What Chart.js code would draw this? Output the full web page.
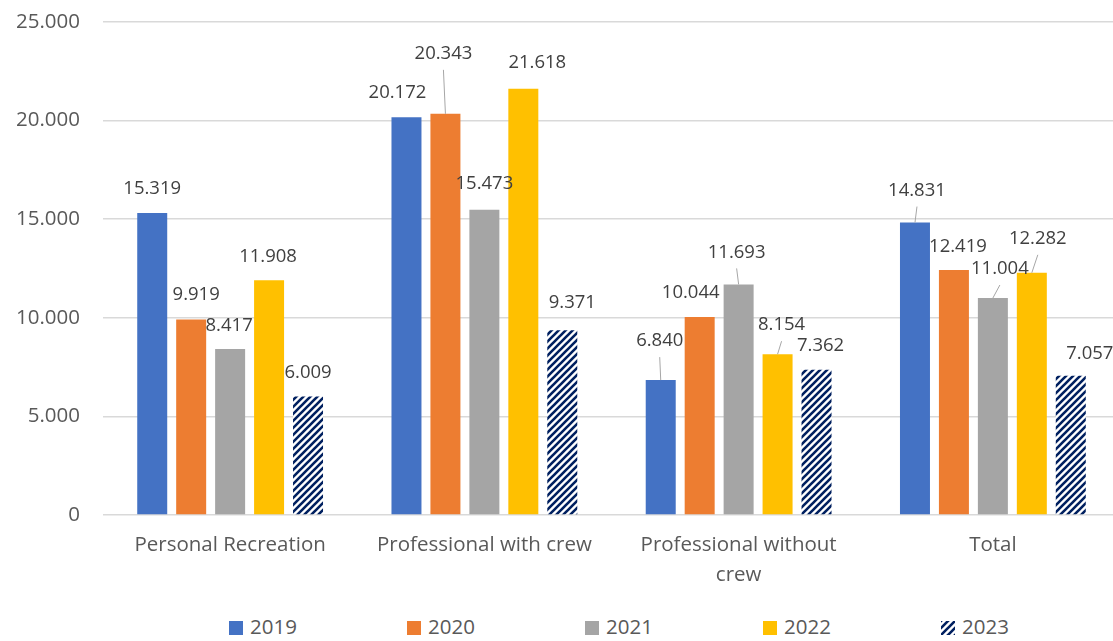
<!DOCTYPE html>
<html>
<head>
<meta charset="utf-8">
<script src="https://cdn.jsdelivr.net/npm/chart.js@4.4.1/dist/chart.umd.min.js"></script>
<style>
  html, body { margin: 0; padding: 0; background: #fff; overflow: hidden; }
  #wrap { position: relative; width: 1130px; height: 641px; }
  #chartBox { position: absolute; left: 0; top: 0; }
  #legend { position: absolute; left: 229px; top: 612px; font-family: 'Open Sans'; font-size: 20.5px; color: #595959; white-space: nowrap; }
  #legend span { display: inline-block; width: 178px; line-height: 24px; }
  #legend i { display: inline-block; width: 14px; height: 14px; margin-right: 7px; vertical-align: -1px; }
</style>
</head>
<body>
<div id="wrap">
  <div id="chartBox"><canvas id="vesselChart" width="1130" height="600"></canvas></div>
  <div id="legend"></div>
</div>
<script>
// ---------------- Data ----------------
const categories = ['Personal Recreation', 'Professional with crew', ['Professional without', 'crew'], 'Total'];
const years = ['2019', '2020', '2021', '2022', '2023'];
const values2019 = [15319, 20172, 6840, 14831];
const values2020 = [9919, 20343, 10044, 12419];
const values2021 = [8417, 15473, 11693, 11004];
const values2022 = [11908, 21618, 8154, 12282];
const values2023 = [6009, 9371, 7362, 7057];
const yMin = 0;
const yMax = 25000;
const yStep = 5000;

// label offsets (dx, dy) from bar top, per series / category
const labelOffsets = [
  [[0, -24], [-9, -24], [-1, -39], [2, -32]],
  [[5, -25], [-2, -60], [-9, -24], [4, -23]],
  [[-1, -23], [0, -26], [-2, -32], [7, -29]],
  [[-1, -23], [14, -26], [4, -29], [6, -34]],
  [[0, -24], [10, -27], [4, -24], [19, -22]]
];

const fmt = v => String(v).replace(/\B(?=(\d{3})+(?!\d))/g, '.');

function makeHatch() {
  const c = document.createElement('canvas');
  c.width = 7; c.height = 7;
  const g = c.getContext('2d');
  g.fillStyle = '#fff';
  g.fillRect(0, 0, 7, 7);
  g.strokeStyle = '#002060';
  g.lineWidth = 2.6;
  g.beginPath();
  g.moveTo(-1, 8); g.lineTo(8, -1);
  g.moveTo(-4.5, 4.5); g.lineTo(4.5, -4.5);
  g.moveTo(2.5, 11.5); g.lineTo(11.5, 2.5);
  g.stroke();
  return c;
}

const hatchCanvas = makeHatch();
const ctx = document.getElementById('vesselChart').getContext('2d');
const hatch = ctx.createPattern(hatchCanvas, 'repeat');

const colors = ['#4472C4', '#ED7D31', '#A5A5A5', '#FFC000', hatch];
const seriesValues = [values2019, values2020, values2021, values2022, values2023];

const barLabels = {
  id: 'barLabels',
  afterDatasetsDraw(chart) {
    const c = chart.ctx;
    c.save();
    c.font = '18.5px "Open Sans"';
    c.fillStyle = '#404040';
    c.textAlign = 'center';
    c.textBaseline = 'middle';
    chart.data.datasets.forEach((ds, i) => {
      chart.getDatasetMeta(i).data.forEach((bar, j) => {
        const [dx, dy] = labelOffsets[i][j];
        const x = bar.x + dx;
        const y = bar.y + dy;
        if (dy < -28) {
          c.strokeStyle = '#a6a6a6';
          c.lineWidth = 1;
          c.beginPath();
          c.moveTo(x, y + 16);
          c.lineTo(bar.x, bar.y);
          c.stroke();
        }
        c.fillText(fmt(ds.data[j]), x, y);
      });
    });
    c.restore();
  }
};

new Chart(ctx, {
  type: 'bar',
  data: {
    labels: categories,
    datasets: years.map((y, i) => ({
      label: y,
      data: seriesValues[i],
      backgroundColor: colors[i],
      borderWidth: 0,
      barPercentage: 0.77,
      categoryPercentage: 0.766
    }))
  },
  options: {
    responsive: false,
    animation: false,
    layout: { padding: { top: 22, right: 10, left: 0, bottom: 0 } },
    plugins: {
      legend: { display: false },
      tooltip: { enabled: false }
    },
    scales: {
      x: {
        grid: { display: false, drawTicks: false },
        border: { display: false },
        ticks: {
          color: '#595959',
          padding: 15,
          font: { family: 'Open Sans', size: 20.5, lineHeight: 1.46 }
        },
        afterFit(scale) { scale.height = 85; }
      },
      y: {
        min: yMin,
        max: yMax,
        grid: { color: '#d9d9d9', lineWidth: 1.5, drawTicks: false },
        border: { display: false },
        ticks: {
          stepSize: yStep,
          color: '#595959',
          padding: 23,
          font: { family: 'Open Sans', size: 20.5 },
          callback: v => fmt(v)
        },
        afterFit(scale) {
          scale.width = 103;
          scale.paddingTop = 0;
          scale.paddingBottom = 0;
        }
      }
    }
  },
  plugins: [barLabels]
});

// ---------------- Legend ----------------
const legend = document.getElementById('legend');
years.forEach((label, i) => {
  const item = document.createElement('span');
  const bg = i === 4
    ? `background-image:url(${hatchCanvas.toDataURL()})`
    : `background:${colors[i]}`;
  item.innerHTML = `<i style="${bg}"></i>${label}`;
  legend.appendChild(item);
});
</script>
</body>
</html>
